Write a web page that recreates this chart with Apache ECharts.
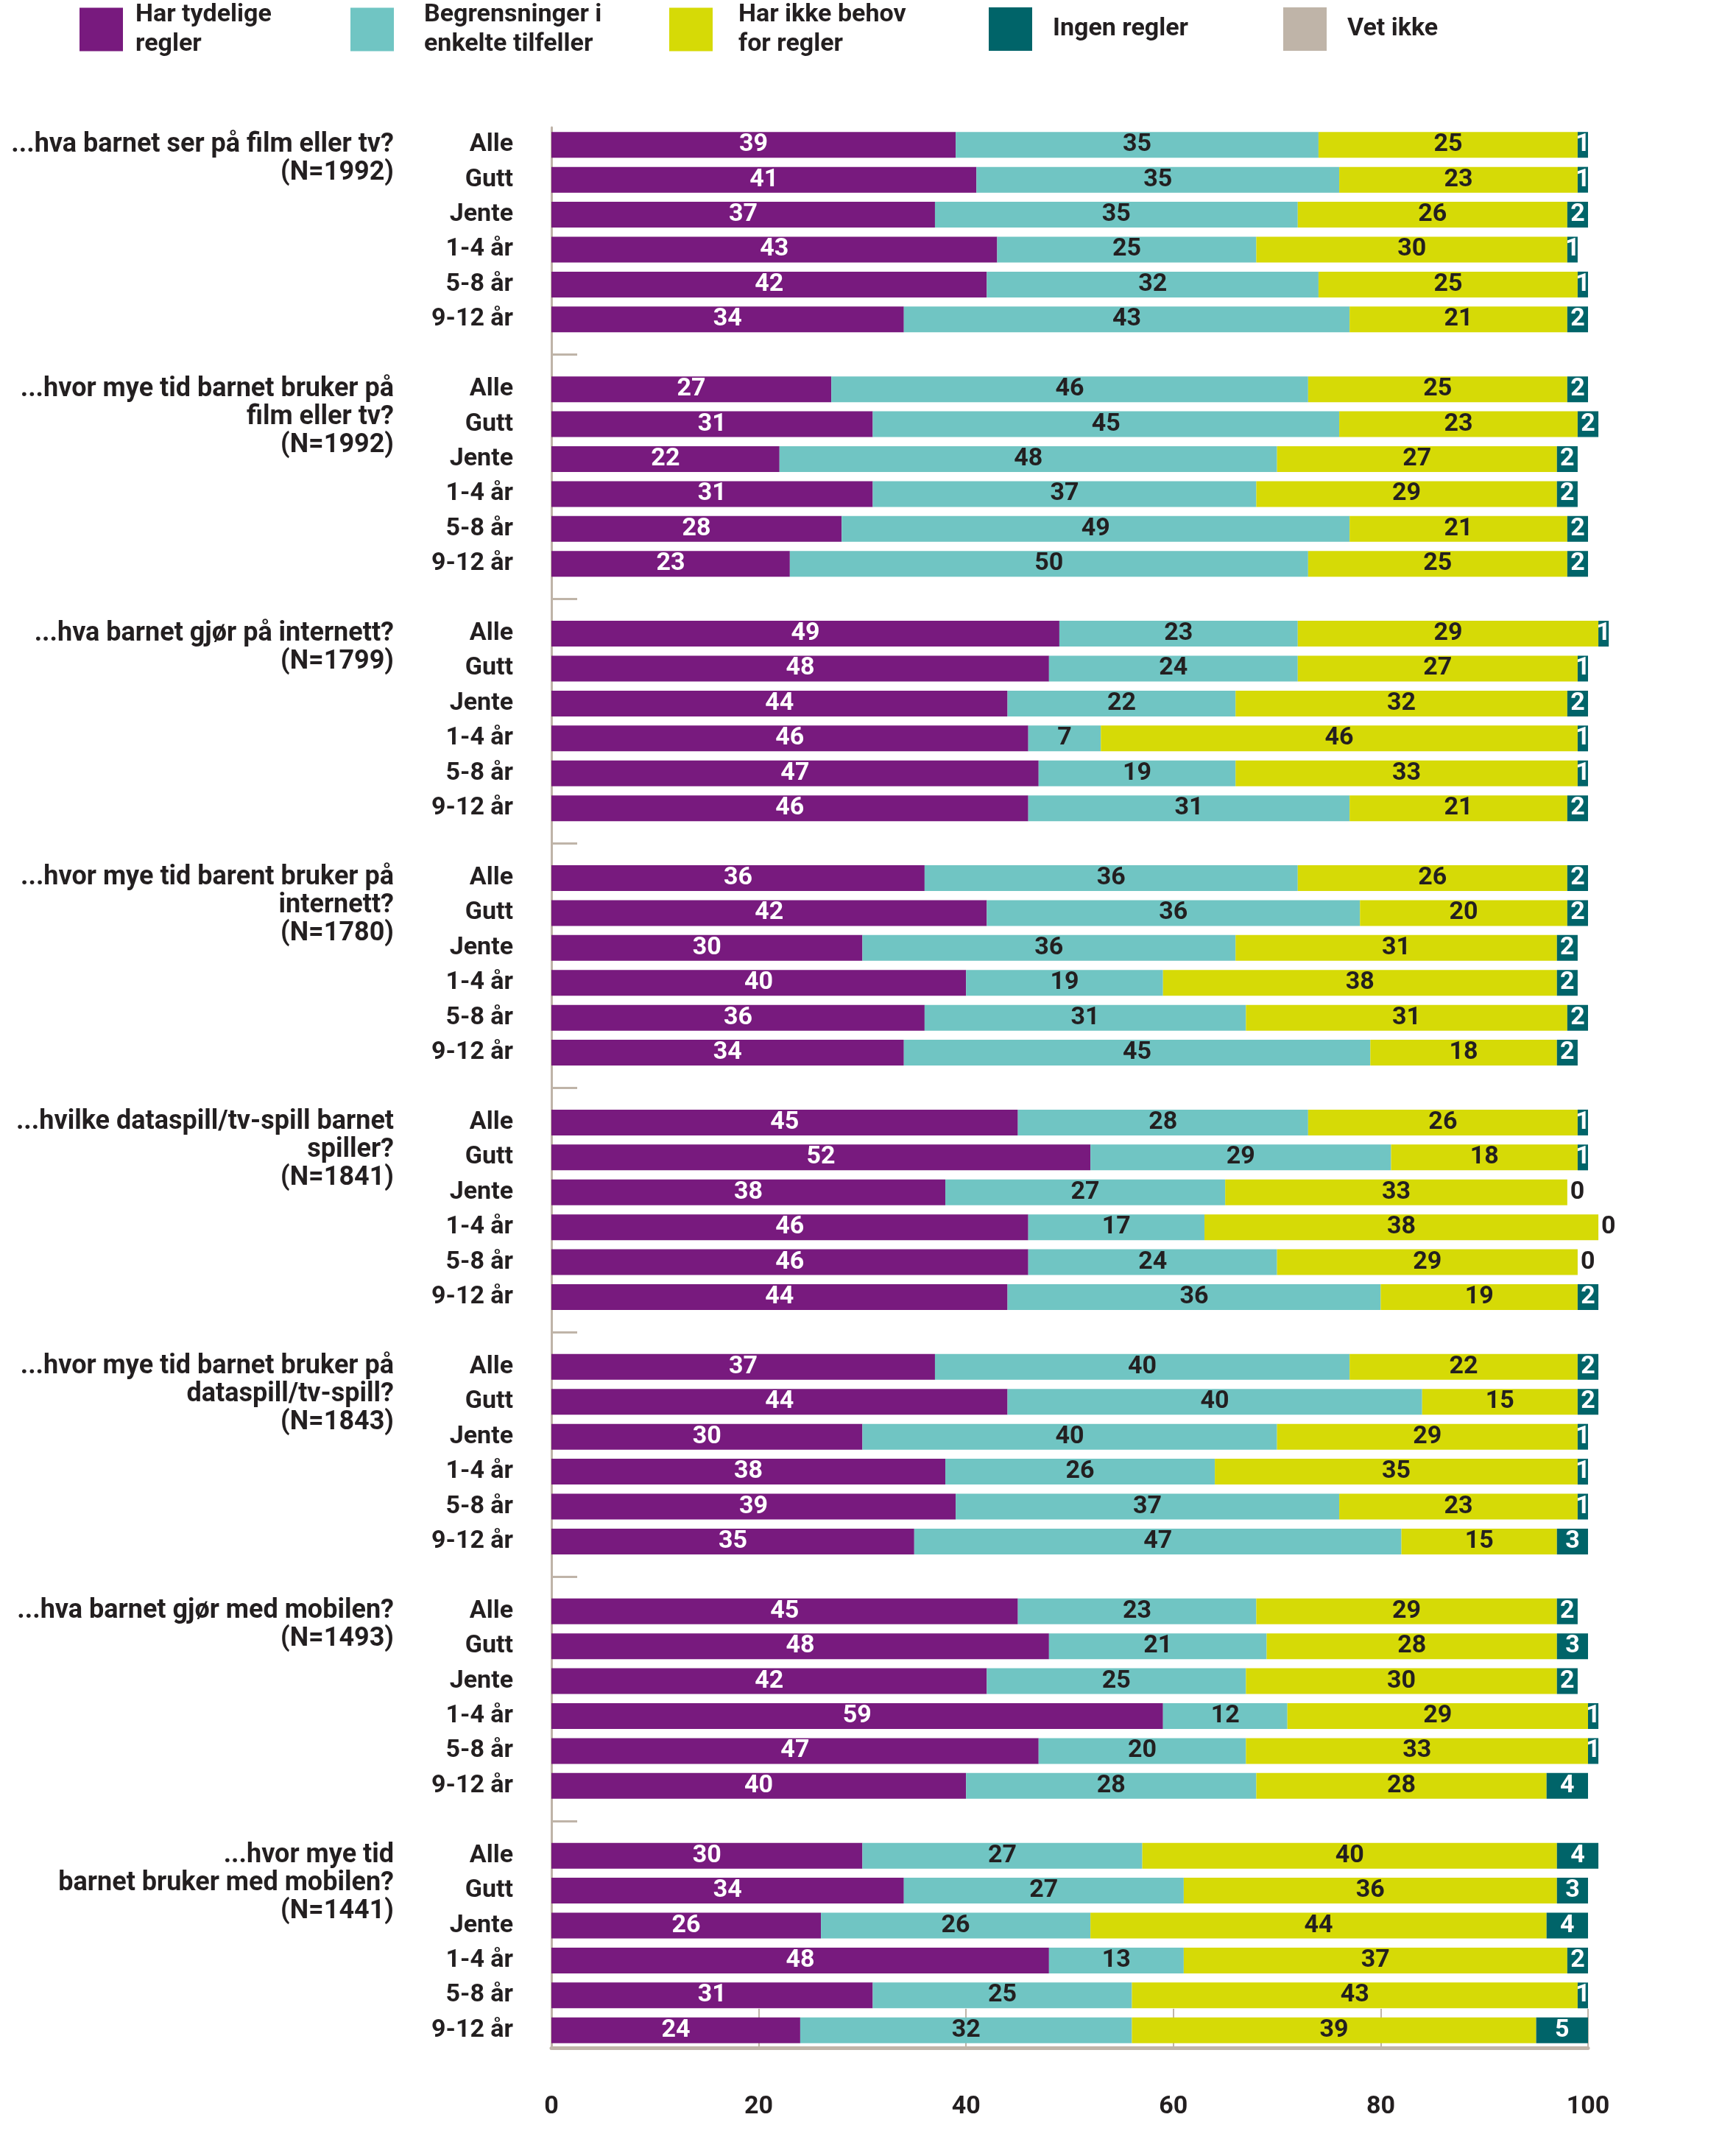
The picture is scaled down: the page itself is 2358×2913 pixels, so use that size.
<!DOCTYPE html>
<html>
<head>
<meta charset="utf-8">
<script src="https://cdn.jsdelivr.net/npm/echarts@6/dist/echarts.min.js"></script>
<style>
html,body{margin:0;padding:0;background:#fff;}
#chart{width:2358px;height:2913px;}
</style>
</head>
<body>
<div id="chart"></div>
<script>
// ---------- DATA ----------
const groupTitles = [
  '...hva barnet ser på film eller tv?\n(N=1992)',
  '...hvor mye tid barnet bruker på\nfilm eller tv?\n(N=1992)',
  '...hva barnet gjør på internett?\n(N=1799)',
  '...hvor mye tid barent bruker på\ninternett?\n(N=1780)',
  '...hvilke dataspill/tv-spill barnet\nspiller?\n(N=1841)',
  '...hvor mye tid barnet bruker på\ndataspill/tv-spill?\n(N=1843)',
  '...hva barnet gjør med mobilen?\n(N=1493)',
  '...hvor mye tid\nbarnet bruker med mobilen?\n(N=1441)'
];
const rowLabels = ['Alle', 'Gutt', 'Jente', '1-4 år', '5-8 år', '9-12 år'];

const seriesNames = ['Har tydelige regler', 'Begrensninger i enkelte tilfeller', 'Har ikke behov for regler', 'Ingen regler', 'Vet ikke'];
const legendLabels = ['Har tydelige\nregler', 'Begrensninger i\nenkelte tilfeller', 'Har ikke behov\nfor regler', 'Ingen regler', 'Vet ikke'];

// values per group, rows: Alle, Gutt, Jente, 1-4 år, 5-8 år, 9-12 år
const harTydelige = [
  39, 41, 37, 43, 42, 34,
  27, 31, 22, 31, 28, 23,
  49, 48, 44, 46, 47, 46,
  36, 42, 30, 40, 36, 34,
  45, 52, 38, 46, 46, 44,
  37, 44, 30, 38, 39, 35,
  45, 48, 42, 59, 47, 40,
  30, 34, 26, 48, 31, 24
];
const begrensninger = [
  35, 35, 35, 25, 32, 43,
  46, 45, 48, 37, 49, 50,
  23, 24, 22, 7, 19, 31,
  36, 36, 36, 19, 31, 45,
  28, 29, 27, 17, 24, 36,
  40, 40, 40, 26, 37, 47,
  23, 21, 25, 12, 20, 28,
  27, 27, 26, 13, 25, 32
];
const ikkeBehov = [
  25, 23, 26, 30, 25, 21,
  25, 23, 27, 29, 21, 25,
  29, 27, 32, 46, 33, 21,
  26, 20, 31, 38, 31, 18,
  26, 18, 33, 38, 29, 19,
  22, 15, 29, 35, 23, 15,
  29, 28, 30, 29, 33, 28,
  40, 36, 44, 37, 43, 39
];
const ingenRegler = [
  1, 1, 2, 1, 1, 2,
  2, 2, 2, 2, 2, 2,
  1, 1, 2, 1, 1, 2,
  2, 2, 2, 2, 2, 2,
  1, 1, 0, 0, 0, 2,
  2, 2, 1, 1, 1, 3,
  2, 3, 2, 1, 1, 4,
  4, 3, 4, 2, 1, 5
];
const vetIkke = [
  0, 0, 0, 0, 0, 0,
  0, 0, 0, 0, 0, 0,
  0, 0, 0, 0, 0, 0,
  0, 0, 0, 0, 0, 0,
  0, 0, 0, 0, 0, 0,
  0, 0, 0, 0, 0, 0,
  0, 0, 0, 0, 0, 0,
  0, 0, 0, 0, 0, 0
];
const xTicks = [0, 20, 40, 60, 80, 100];

// ---------- STYLE ----------
const colors = ['#781a7e', '#70c5c3', '#d6da06', '#006469', '#bfb4a8'];
const labelColors = ['#ffffff', '#231f20', '#231f20', '#ffffff', '#231f20'];
const textColor = '#231f20';
const axisGray = '#bfb4a8';
const FONT = 'Roboto, "DejaVu Sans", sans-serif';
const FS = 34;

// ---------- BUILD ----------
const nGroups = groupTitles.length;
const categories = [];
const isGap = [];
const groupStart = {};
for (let g = 0; g < nGroups; g++) {
  groupStart[categories.length] = g;
  rowLabels.forEach(r => { categories.push(r); isGap.push(false); });
  if (g < nGroups - 1) { categories.push(''); isGap.push(true); }
}
function expand(arr, mapFn) {
  const out = [];
  for (let g = 0; g < nGroups; g++) {
    for (let r = 0; r < rowLabels.length; r++) {
      const v = arr[g * rowLabels.length + r];
      out.push(mapFn ? mapFn(v) : v);
    }
    if (g < nGroups - 1) out.push(null);
  }
  return out;
}
const allSeries = [harTydelige, begrensninger, ikkeBehov, ingenRegler, vetIkke];

const series = allSeries.map((arr, i) => ({
  name: seriesNames[i],
  type: 'bar',
  stack: 'total',
  xAxisIndex: 0,
  yAxisIndex: 0,
  barWidth: 35,
  clip: false,
  itemStyle: { color: colors[i] },
  label: {
    show: i < 4,
    position: 'inside',
    color: labelColors[i],
    fontFamily: FONT,
    fontWeight: 'bold',
    fontSize: FS
  },
  emphasis: { disabled: true },
  data: expand(arr, v => (i === 3 && v === 0)
    ? { value: 0, label: { position: 'right', distance: 4, color: textColor } }
    : v)
}));

const legendLefts = [108, 476, 909, 1343, 1743];
const legendTops = [-4, -4, -4, 10, 10];
const legendTextGaps = [12, 36, 30, 23, 23];
const legends = seriesNames.map((n, i) => {
  const twoLine = legendLabels[i].indexOf('\n') >= 0;
  return {
    data: [n],
    left: legendLefts[i],
    top: legendTops[i],
    padding: 0,
    itemWidth: 59,
    itemHeight: 59,
    icon: 'rect',
    selectedMode: false,
    formatter: () => legendLabels[i],
    textStyle: {
      color: textColor,
      fontFamily: FONT,
      fontWeight: 'bold',
      fontSize: FS,
      lineHeight: 40,
      padding: [twoLine ? 8 : 0, 0, 0, legendTextGaps[i]]
    }
  };
});

const option = {
  animation: false,
  backgroundColor: '#ffffff',
  legend: legends,
  grid: [
    { left: 749, right: 201, top: 173, bottom: 132 },
    { left: 749, right: 201, top: 154, bottom: 151 },
    { left: 749, right: 201, top: 2728, bottom: 132 }
  ],
  xAxis: [
    { type: 'value', gridIndex: 0, min: 0, max: 100, interval: 20, show: false },
    { type: 'value', gridIndex: 1, min: 0, max: 100, interval: 20, show: false },
    {
      type: 'value', gridIndex: 2, min: 0, max: 100, interval: 20,
      axisLine: { show: true, lineStyle: { color: axisGray, width: 5 } },
      axisTick: { show: false },
      splitLine: { show: true, lineStyle: { color: axisGray, width: 2 } },
      axisLabel: {
        margin: 63,
        color: textColor,
        fontFamily: FONT,
        fontWeight: 'bold',
        fontSize: FS,
        formatter: v => xTicks.indexOf(v) >= 0 ? String(v) : ''
      }
    }
  ],
  yAxis: [
    {
      type: 'category', gridIndex: 0, inverse: true, data: categories,
      axisLine: { show: true, lineStyle: { color: axisGray, width: 3 } },
      axisTick: {
        show: true, inside: true, length: 35, alignWithLabel: true,
        interval: (idx) => isGap[idx],
        lineStyle: { color: axisGray, width: 3 }
      },
      axisLabel: {
        interval: 0,
        margin: 52,
        color: textColor,
        fontFamily: FONT,
        fontWeight: 'bold',
        fontSize: FS
      }
    },
    {
      type: 'category', gridIndex: 1, inverse: true, data: categories,
      axisLine: { show: false }, axisTick: { show: false },
      axisLabel: {
        interval: 0,
        margin: 214,
        align: 'right',
        verticalAlign: 'top',
        lineHeight: 38,
        color: textColor,
        fontFamily: FONT,
        fontWeight: 'bold',
        fontSize: 36,
        formatter: (v, idx) => groupStart[idx] !== undefined ? groupTitles[groupStart[idx]] : ''
      }
    },
    { type: 'value', gridIndex: 2, show: false }
  ],
  series: series
};

const chart = echarts.init(document.getElementById('chart'), null, { renderer: 'canvas' });
chart.setOption(option);
</script>
</body>
</html>
